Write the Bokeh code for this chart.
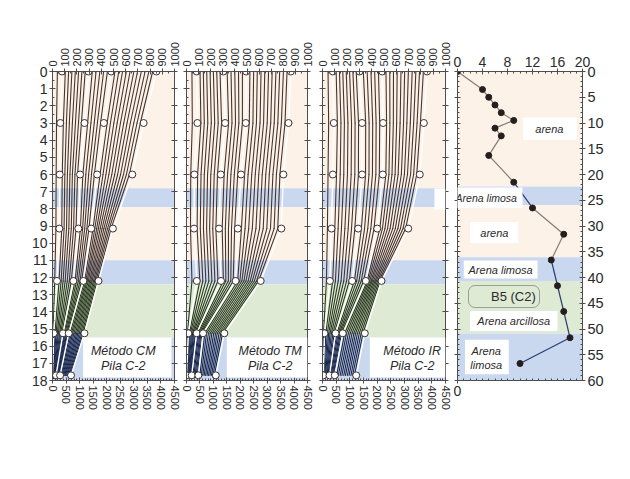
import numpy as np
from bokeh.plotting import figure
from bokeh.models import (Range1d, LinearAxis, FixedTicker, BoxAnnotation, Label,
                          Legend, LegendItem)
from bokeh.layouts import row
from bokeh.embed import file_html
from bokeh.resources import INLINE

# ---------------- data ----------------
depth_m = [0, 3, 6, 9.15, 12.2, 15.25, 17.7]

cm_curves = [
    [40, 33, 30, 28, 18, 5, 0],
    [78, 64, 59, 56, 37, 10, 0],
    [105, 89, 80, 76, 54, 20, 4],
    [132, 114, 101, 95, 71, 29, 7],
    [159, 138, 122, 115, 87, 39, 11],
    [187, 163, 143, 134, 104, 48, 15],
    [214, 188, 163, 154, 121, 58, 18],
    [241, 213, 184, 173, 138, 67, 22],
    [268, 237, 205, 193, 154, 77, 25],
    [295, 262, 226, 212, 171, 86, 29],
    [326, 288, 249, 229, 185, 94, 34],
    [357, 315, 273, 247, 198, 102, 40],
    [388, 342, 296, 264, 212, 110, 45],
    [419, 368, 319, 282, 226, 117, 51],
    [450, 394, 343, 299, 239, 125, 56],
    [481, 421, 366, 317, 253, 133, 62],
    [512, 448, 390, 332, 263, 144, 70],
    [543, 475, 414, 347, 274, 155, 77],
    [574, 503, 438, 362, 284, 165, 85],
    [605, 530, 462, 376, 294, 176, 92],
    [636, 557, 486, 391, 305, 187, 100],
    [667, 584, 510, 406, 315, 198, 107],
    [697, 611, 534, 421, 325, 208, 115],
    [728, 638, 558, 436, 336, 219, 122],
    [759, 666, 582, 451, 346, 230, 130],
    [790, 693, 606, 465, 356, 241, 137],
    [821, 720, 630, 480, 367, 251, 145],
    [852, 747, 654, 495, 377, 262, 152],
]
cm_marked = [1, 9, 15, 27]

tm_curves = [
    [45, 48, 35, 33, 45, 8, 0],
    [84, 90, 65, 62, 85, 15, 0],
    [112, 119, 92, 88, 110, 24, 5],
    [139, 147, 120, 114, 135, 32, 11],
    [167, 176, 147, 140, 160, 41, 16],
    [195, 205, 174, 166, 185, 50, 22],
    [222, 233, 201, 191, 210, 58, 27],
    [250, 262, 229, 217, 235, 67, 32],
    [277, 290, 256, 243, 260, 75, 38],
    [305, 319, 283, 269, 285, 84, 43],
    [336, 348, 311, 295, 305, 93, 52],
    [368, 376, 339, 321, 325, 102, 61],
    [399, 405, 367, 347, 346, 111, 71],
    [430, 433, 395, 372, 366, 119, 80],
    [462, 462, 423, 398, 386, 128, 89],
    [493, 490, 451, 424, 406, 137, 98],
    [524, 519, 480, 454, 423, 152, 110],
    [555, 549, 509, 484, 441, 166, 122],
    [585, 578, 539, 514, 458, 181, 134],
    [616, 608, 568, 544, 475, 196, 146],
    [647, 637, 597, 574, 492, 210, 158],
    [678, 667, 626, 604, 510, 225, 170],
    [708, 696, 655, 634, 527, 240, 182],
    [739, 725, 684, 664, 544, 254, 194],
    [770, 755, 714, 694, 561, 269, 206],
    [801, 784, 743, 724, 579, 284, 218],
    [831, 814, 772, 754, 596, 298, 230],
    [862, 843, 801, 784, 613, 313, 242],
]
tm_marked = [1, 9, 15, 27]

ir_curves = [
    [45, 50, 45, 40, 32, 8, 3],
    [84, 92, 84, 73, 60, 16, 6],
    [111, 121, 114, 100, 83, 27, 12],
    [138, 150, 144, 127, 105, 39, 19],
    [165, 178, 173, 154, 128, 50, 25],
    [193, 207, 203, 182, 151, 61, 32],
    [220, 236, 233, 209, 173, 72, 38],
    [247, 265, 263, 236, 196, 84, 44],
    [274, 293, 292, 263, 218, 95, 51],
    [301, 322, 322, 290, 241, 106, 57],
    [332, 351, 350, 316, 260, 116, 64],
    [363, 379, 378, 342, 278, 126, 71],
    [394, 408, 406, 368, 297, 136, 79],
    [424, 436, 434, 393, 315, 145, 86],
    [455, 465, 462, 419, 334, 155, 93],
    [486, 493, 490, 445, 352, 165, 100],
    [516, 521, 515, 466, 363, 180, 115],
    [547, 548, 540, 487, 373, 195, 129],
    [577, 576, 565, 508, 384, 210, 144],
    [607, 603, 590, 529, 395, 225, 158],
    [638, 631, 615, 550, 405, 240, 173],
    [668, 659, 641, 571, 416, 255, 187],
    [698, 686, 666, 592, 427, 269, 202],
    [729, 714, 691, 613, 437, 284, 216],
    [759, 741, 716, 634, 448, 299, 231],
    [789, 769, 741, 655, 459, 314, 245],
    [820, 796, 766, 676, 469, 329, 260],
    [850, 824, 791, 697, 480, 344, 274],
]
ir_marked = [1, 9, 15, 27]

method_names = ["Método CM", "Método TM", "Método IR"]
pile_name = "Pila C-2"

layer_top_m = [0, 6.8, 7.9, 11.0, 12.4, 15.5]
layer_bot_m = [6.8, 7.9, 11.0, 12.4, 15.5, 18.0]
layer_kind = ["arena", "limosa", "arena", "limosa", "arcillosa", "limosa"]

spt_n = [0, 4, 5, 6, 7, 9, 6, 7, 5, 9, 12, 17, 15, 16, 17, 18, 10]
spt_depth_ft = [0, 3.5, 5, 6.5, 8, 9.5, 11, 12.5, 16.3, 21.5, 26.5, 31.6, 36.6,
                41.6, 46.6, 51.7, 56.7]
spt_label = "B5 (C2)"

soil_labels = ["arena", "Arena limosa", "arena", "Arena limosa", "Arena arcillosa",
               "Arena", "limosa"]

top_ticks = list(range(0, 1001, 100))
bottom_ticks = list(range(0, 4501, 500))
depth_ticks = list(range(0, 19))
n_ticks = [0, 4, 8, 12, 16, 20]
ft_ticks = list(range(0, 61, 5))

M_TO_FT = 3.2808

# ---------------- styles ----------------
PEACH = "#fdf2e8"
BLUE = "#c9d7ef"
GREEN = "#dfead4"
KIND_COLOR = {"arena": PEACH, "limosa": BLUE, "arcillosa": GREEN}
BROWN = "#45352f"
NAVY = "#1b284d"
DGREEN = "#2a3a20"
SEG_COLORS = [BROWN, BROWN, BROWN, BROWN, DGREEN, NAVY]
AX = "#4d4d4d"
TXT = "#2b2b2b"
NUM = "Liberation Sans"
NARROW = "'Liberation Sans Narrow', 'Liberation Sans', sans-serif"
ITAL = "'Liberation Sans Narrow', 'Liberation Sans', sans-serif"

FIG_H = 420
TOP_B = 71


def style_axis(ax, ticks, minor, labels=True, size="13px", orient="horizontal",
               font=NUM):
    ax.ticker = FixedTicker(ticks=ticks, minor_ticks=minor)
    ax.axis_line_color = AX
    ax.axis_line_width = 1
    ax.major_tick_line_color = AX
    ax.minor_tick_line_color = AX
    ax.major_tick_in = 3
    ax.major_tick_out = 3
    ax.minor_tick_in = 2
    ax.minor_tick_out = 0
    if labels:
        ax.major_label_text_font = font
        ax.major_label_text_font_size = size
        ax.major_label_text_color = TXT
        ax.major_label_orientation = orient
        ax.major_label_standoff = 2
    else:
        ax.major_label_text_color = None
        ax.major_label_text_font_size = "1px"
        ax.major_label_standoff = 0


def make_panel(curves, marked, method, bl, br, frame_w, box):
    p = figure(width=bl + frame_w + br, height=FIG_H,
               x_range=Range1d(0, 1000), y_range=Range1d(18, 0),
               x_axis_location="above", output_backend="svg", toolbar_location=None,
               min_border_left=bl, min_border_right=br, min_border_top=TOP_B,
               min_border_bottom=FIG_H - TOP_B - 309)
    p.xgrid.visible = False
    p.ygrid.visible = False
    p.outline_line_color = None
    p.background_fill_color = "white"
    p.extra_x_ranges = {"load": Range1d(0, 4500)}

    style_axis(p.xaxis[0], top_ticks, list(range(0, 1001, 50)), True, "11px", "vertical")
    style_axis(p.yaxis[0], depth_ticks, [v / 2 for v in range(0, 37)], bl > 20, "14px",
               "horizontal", NARROW)
    bottom = LinearAxis(x_range_name="load")
    style_axis(bottom, bottom_ticks, list(range(0, 4501, 100)), True, "11px", "vertical")
    p.add_layout(bottom, "below")
    right = LinearAxis()
    style_axis(right, depth_ticks, [], False)
    p.add_layout(right, "right")

    # soil layers
    p.quad(left=0, right=1000, top=layer_top_m, bottom=layer_bot_m,
           fill_color=[KIND_COLOR[k] for k in layer_kind], line_color=None)

    # load-transfer curves
    x0, y0, x1, y1, col = [], [], [], [], []
    for i, c in enumerate(curves):
        if i in marked:
            continue
        for k in range(len(depth_m) - 1):
            x0.append(c[k]); y0.append(depth_m[k])
            x1.append(c[k + 1]); y1.append(depth_m[k + 1])
            col.append(SEG_COLORS[k])
    p.segment(x0=x0, y0=y0, x1=x1, y1=y1, line_color=col, line_width=1.1,
              line_cap="round")
    for i in marked:
        p.line(curves[i], depth_m, line_color="white", line_width=1.4)
        p.scatter(curves[i], depth_m, size=7, marker="circle", fill_color="white",
                  line_color="#3a3030", line_width=1)

    left, right_e, tx = box
    p.add_layout(BoxAnnotation(left=left, right=right_e, top=15.5, bottom=17.82,
                               fill_color="white", fill_alpha=1, line_color=None,
                               level="annotation"))
    for txt, yy in ((method, 16.3), (pile_name, 17.15)):
        p.add_layout(Label(x=tx, y=yy, text=txt, text_font=ITAL,
                           text_font_style="italic", text_font_size="12.5px",
                           text_color=TXT, text_align="center",
                           text_baseline="middle"))
    return p


p1 = make_panel(cm_curves, cm_marked, method_names[0], 52, 6, 122, (251, 975, 580))
p2 = make_panel(tm_curves, tm_marked, method_names[1], 6, 7, 121, (333, 1000, 691))
p3 = make_panel(ir_curves, ir_marked, method_names[2], 8, 7, 123, (385, 1000, 729))
# piece of the "Arena limosa" tag that overlaps the third panel
p3.add_layout(BoxAnnotation(left=910, right=1000, top=6.81, bottom=8.04,
                            fill_color="white", fill_alpha=1, line_color=None,
                            level="annotation"))

# ---------------- SPT panel ----------------
p4 = figure(width=5 + 125 + 30, height=FIG_H, x_range=Range1d(0, 20),
            y_range=Range1d(60, 0), x_axis_location="above", y_axis_location="right",
            output_backend="svg", toolbar_location=None,
            min_border_left=5, min_border_right=30, min_border_top=TOP_B,
            min_border_bottom=FIG_H - TOP_B - 312)
p4.xgrid.visible = False
p4.ygrid.visible = False
p4.outline_line_color = None
style_axis(p4.xaxis[0], n_ticks, list(range(0, 21)), True, "14px", "horizontal", NARROW)
style_axis(p4.yaxis[0], ft_ticks, list(range(0, 61)), True, "14.5px", "horizontal", NARROW)
b4 = LinearAxis()
style_axis(b4, [0], list(range(0, 21)), True, "14px", "horizontal", NARROW)
p4.add_layout(b4, "below")
l4 = LinearAxis()
style_axis(l4, ft_ticks, list(range(0, 61)), False)
p4.add_layout(l4, "left")

ft_top = [t * M_TO_FT for t in layer_top_m]
ft_bot = [b * M_TO_FT for b in layer_bot_m]
ft_bot[-1] = 60
p4.quad(left=0, right=20, top=ft_top, bottom=ft_bot,
        fill_color=[KIND_COLOR[k] for k in layer_kind], line_color=None)

SPT_COL = {"arena": "#8a7a72", "limosa": "#2c3f75", "arcillosa": "#2f3d5e"}
sx0, sy0, sx1, sy1, scol = [], [], [], [], []
for k in range(len(spt_n) - 1):
    sx0.append(spt_n[k]); sy0.append(spt_depth_ft[k])
    sx1.append(spt_n[k + 1]); sy1.append(spt_depth_ft[k + 1])
    mid = (spt_depth_ft[k] + spt_depth_ft[k + 1]) / 2
    kind = "arena"
    for t, b, kd in zip(ft_top, ft_bot, layer_kind):
        if t <= mid < b:
            kind = kd
    if mid > 36:
        kind = "limosa"
    scol.append(SPT_COL[kind])
p4.segment(x0=sx0, y0=sy0, x1=sx1, y1=sy1, line_color=scol, line_width=1.2)
p4.scatter(spt_n, spt_depth_ft, size=6, marker="circle", fill_color="#241e1e",
           line_color="#241e1e")

# soil tags
tags = [
    ((10.5, 19.1, 9.0, 13.3), [(soil_labels[0], 14.7, 11.2)], "11px"),
    ((-3.8, 10.4, 22.5, 26.5), [(soil_labels[1], 4.6, 24.6)], "10.5px"),
    ((2.0, 9.7, 29.2, 33.3), [(soil_labels[2], 5.9, 31.3)], "11px"),
    ((1.0, 12.8, 36.7, 40.2), [(soil_labels[3], 6.9, 38.5)], "11px"),
    ((2.0, 16.0, 46.5, 50.4), [(soil_labels[4], 9.0, 48.5)], "11px"),
    ((1.2, 8.2, 52.1, 58.8), [(soil_labels[5], 4.6, 54.2), (soil_labels[6], 4.6, 56.9)],
     "11px"),
]
for (l, r, t, b), texts, fs in tags:
    p4.add_layout(BoxAnnotation(left=l, right=r, top=t, bottom=b, fill_color="white",
                                fill_alpha=1, line_color=None, level="annotation"))
    for txt, xx, yy in texts:
        p4.add_layout(Label(x=xx, y=yy, text=txt, text_font=ITAL,
                            text_font_style="italic", text_font_size=fs,
                            text_color=TXT, text_align="center", text_baseline="middle"))

lg_line = p4.line([], [], line_color="#333333", line_width=1.2)
lg_pts = p4.scatter([], [], size=6, marker="circle", fill_color="#1e1e1e",
                    line_color="#1e1e1e")
legend = Legend(items=[LegendItem(label=spt_label, renderers=[lg_line, lg_pts])],
                location=(11, 72), background_fill_alpha=0,
                border_line_color="#4b5a46", border_line_width=1.3,
                label_text_font=NARROW, label_text_font_size="13px",
                label_text_color=TXT, glyph_width=16, glyph_height=14,
                padding=3, margin=0, spacing=0, label_standoff=3)
if "border_radius" in Legend.properties():
    legend.border_radius = 7
p4.add_layout(legend)

layout = row(p1, p2, p3, p4, spacing=0)
open("out.html", "w").write(file_html(layout, INLINE))
